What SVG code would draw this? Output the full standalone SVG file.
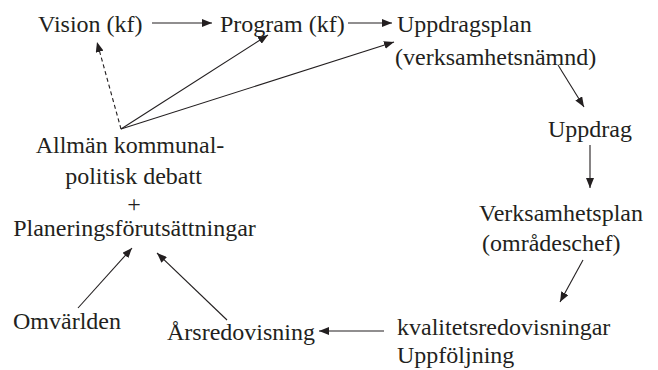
<svg xmlns="http://www.w3.org/2000/svg" width="658" height="370" viewBox="0 0 658 370">
<defs>
<marker id="ah" viewBox="0 0 10 8" refX="10" refY="4" markerWidth="10" markerHeight="8" markerUnits="userSpaceOnUse" orient="auto">
<path d="M0,0 L10,4 L0,8 Z" fill="#231f20"/>
</marker>
<style>
text{font-size:24px;fill:#231f20}
.c{stroke:#231f20;stroke-width:1.1;fill:none;marker-end:url(#ah)}
.d{stroke-dasharray:4,3}
</style>
</defs>
<rect width="658" height="370" fill="#fff"/>
<g font-family="Liberation Serif, Tinos, DejaVu Serif, serif">
<g id="vision"><text x="38" y="32">Vision (kf)</text></g>
<g id="program"><text x="220" y="32">Program (kf)</text></g>
<g id="uppdragsplan"><text x="397" y="32">Uppdragsplan</text><text x="395" y="65">(verksamhetsnämnd)</text></g>
<g id="uppdrag"><text x="548" y="137">Uppdrag</text></g>
<g id="verksamhetsplan"><text x="479" y="221">Verksamhetsplan</text><text x="482" y="251">(områdeschef)</text></g>
<g id="kvalitet"><text x="397" y="335">kvalitetsredovisningar</text><text x="397" y="363">Uppföljning</text></g>
<g id="arsredovisning"><text x="167" y="340">Årsredovisning</text></g>
<g id="omvarlden"><text x="13" y="329">Omvärlden</text></g>
<g id="debatt" text-anchor="middle">
<text x="130" y="153">Allmän kommunal-</text>
<text x="133.5" y="184">politisk debatt</text>
<text x="134" y="212">+</text>
<text x="134.5" y="236">Planeringsförutsättningar</text>
</g>
</g>
<g id="connectors">
<line class="c" x1="152" y1="23" x2="212" y2="23"/>
<line class="c" x1="348" y1="23" x2="392" y2="23"/>
<line class="c d" x1="121" y1="129" x2="97" y2="42"/>
<line class="c" x1="121" y1="129" x2="268" y2="35"/>
<line class="c" x1="121" y1="129" x2="394" y2="42"/>
<line class="c" x1="558" y1="65" x2="584" y2="107"/>
<line class="c" x1="590" y1="145" x2="590" y2="188"/>
<line class="c" x1="583" y1="260" x2="560" y2="302"/>
<line class="c" x1="384" y1="331" x2="319" y2="331"/>
<line class="c" x1="78" y1="308" x2="132" y2="248"/>
<line class="c" x1="227" y1="320" x2="157" y2="253"/>
</g>
</svg>
